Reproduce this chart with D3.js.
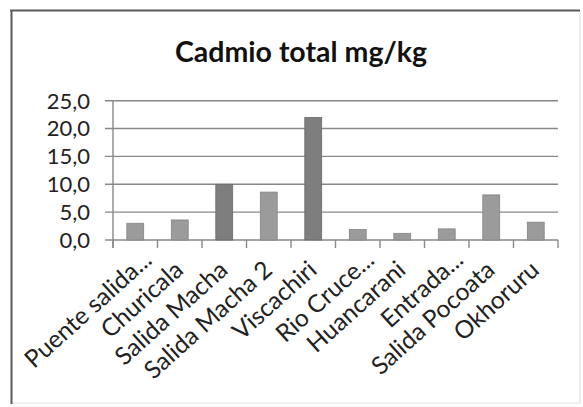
<!DOCTYPE html>
<html>
<head>
<meta charset="utf-8">
<script src="https://cdn.jsdelivr.net/npm/d3@7"></script>
<style>
  html, body { margin: 0; padding: 0; background: #fff; }
  svg { display: block; }
</style>
</head>
<body>
<script>
const title = "Cadmio total mg/kg";
const categories = ["Puente salida...", "Churicala", "Salida Macha", "Salida Macha 2", "Viscachiri",
  "Rio Cruce...", "Huancarani", "Entrada...", "Salida Pocoata", "Okhoruru"];
const values = [3.0, 3.6, 10.0, 8.6, 22.0, 1.9, 1.2, 2.0, 8.1, 3.2];
const highlighted = [false, false, true, false, true, false, false, false, false, false];
const yTicks = [0, 5, 10, 15, 20, 25];

const W = 583, H = 407;
const svg = d3.select("body").append("svg").attr("width", W).attr("height", H);

// frame
svg.append("line").attr("x1", 580).attr("y1", 10).attr("x2", 580).attr("y2", 403).attr("stroke", "#e2e2e2").attr("stroke-width", 1.2);
svg.append("line").attr("x1", 11).attr("y1", 403).attr("x2", 580).attr("y2", 403).attr("stroke", "#e2e2e2").attr("stroke-width", 1.2);
svg.append("line").attr("x1", 10).attr("y1", 10.5).attr("x2", 580).attr("y2", 10.5).attr("stroke", "#5a5a5a").attr("stroke-width", 2);
svg.append("line").attr("x1", 11.5).attr("y1", 10).attr("x2", 11.5).attr("y2", 404).attr("stroke", "#5a5a5a").attr("stroke-width", 2);

const x = d3.scaleBand().domain(categories).range([113, 558]).paddingInner(0.62).paddingOuter(0.31);
const y = d3.scaleLinear().domain([0, 25]).range([240, 100.7]);

// gridlines
svg.append("g").selectAll("line").data(yTicks).join("line")
  .attr("x1", 105).attr("x2", 558)
  .attr("y1", d => y(d)).attr("y2", d => y(d))
  .attr("stroke", "#888").attr("stroke-width", 1.4);

// y axis line
svg.append("line").attr("x1", 113).attr("x2", 113).attr("y1", y(25)).attr("y2", 248)
  .attr("stroke", "#888").attr("stroke-width", 1.4);

// x tick marks at category boundaries
const step = x.step();
const bounds = d3.range(categories.length + 1).map(i => 113 + i * step);
svg.append("g").selectAll("line").data(bounds).join("line")
  .attr("x1", d => d).attr("x2", d => d).attr("y1", 240).attr("y2", 248)
  .attr("stroke", "#888").attr("stroke-width", 1.4);

// bars
svg.append("g").selectAll("rect").data(values).join("rect")
  .attr("x", (d, i) => x(categories[i]))
  .attr("width", x.bandwidth())
  .attr("y", d => y(d))
  .attr("height", d => y(0) - y(d))
  .attr("fill", (d, i) => highlighted[i] ? "#7e7e7e" : "#9b9b9b")
  .attr("stroke", (d, i) => highlighted[i] ? "#6a6a6a" : "#858585")
  .attr("stroke-width", 0.8);

// y labels
svg.append("g").selectAll("text").data(yTicks).join("text")
  .attr("x", 90).attr("y", d => y(d))
  .attr("dy", "0.36em")
  .attr("text-anchor", "end")
  .attr("font-family", "Lato, 'Open Sans', sans-serif")
  .attr("font-size", 22)
  .attr("fill", "#222")
  .text(d => d3.format(".1f")(d).replace(".", ","));

// x labels
svg.append("g").selectAll("text").data(categories).join("text")
  .attr("transform", d => {
    const c = x(d) + x.bandwidth() / 2;
    const trunc = d.endsWith("...");
    return `translate(${c + (trunc ? 18 : 5)},${trunc ? 262 : 272}) rotate(-42)`;
  })
  .attr("text-anchor", "end")
  .attr("font-family", "Lato, 'Open Sans', sans-serif")
  .attr("font-size", 24.5)
  .attr("fill", "#222")
  .text(d => d);

// title
svg.append("text")
  .attr("x", 301).attr("y", 62)
  .attr("text-anchor", "middle")
  .attr("font-family", "Lato, 'Open Sans', sans-serif")
  .attr("font-weight", "bold")
  .attr("font-size", 28.5)
  .attr("fill", "#111")
  .text(title);
</script>
</body>
</html>
